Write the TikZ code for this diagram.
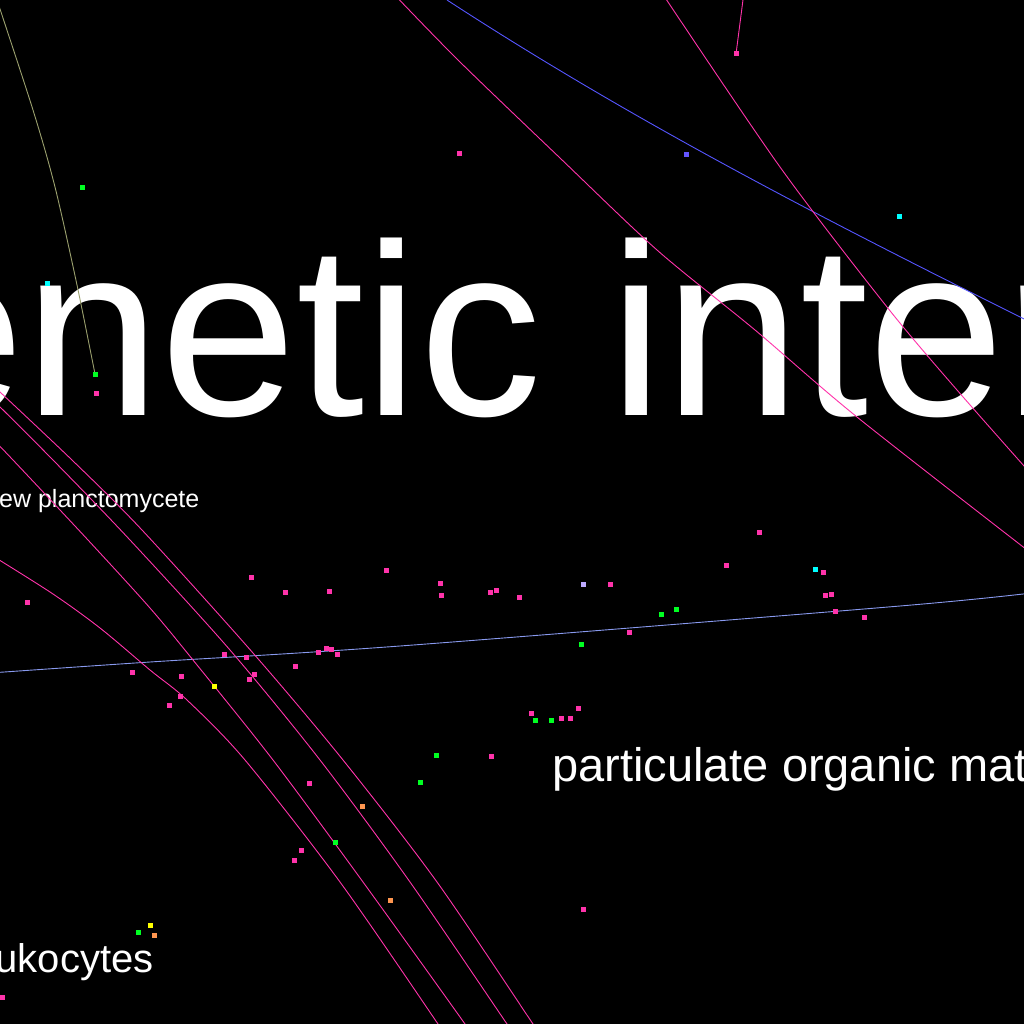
\documentclass[tikz,border=0pt]{standalone}
\usepackage{fontspec}
\setmainfont{Liberation Sans}
\definecolor{cpink}{RGB}{255,51,170}
\definecolor{cgreen}{RGB}{0,255,34}
\definecolor{ccyan}{RGB}{0,255,255}
\definecolor{cyellow}{RGB}{255,255,0}
\definecolor{corange}{RGB}{255,150,80}
\definecolor{clilac}{RGB}{190,170,255}
\definecolor{cviolet}{RGB}{100,85,255}
\definecolor{cblue}{RGB}{85,85,255}
\definecolor{csky}{RGB}{136,153,238}
\definecolor{colive}{RGB}{155,160,110}
\begin{document}
\begin{tikzpicture}[x=1pt, y=-1pt,
    vtx/.style={rectangle, inner sep=0pt, minimum size=5pt},
    link/.style={line width=0.9pt},
    txt/.style={anchor=base west, inner sep=0pt, text=white}]
    % Фон
    \useasboundingbox (0,0) rectangle (1024,1024);
    \fill[black] (0,0) rectangle (1024,1024);
    \clip (0,0) rectangle (1024,1024);

    % Подписи
    \node[txt, font=\fontsize{245}{245}\selectfont] (title) at (-112,415) {enetic inter};
    \node[txt, font=\fontsize{25}{27}\selectfont] (plancto) at (-1,507.5) {ew planctomycete};
    \node[txt, font=\fontsize{47}{50}\selectfont] (pom) at (552,781) {particulate organic mat};
    \node[txt, font=\fontsize{40}{44}\selectfont] (leuko) at (-4.6,972.7) {ukocytes};

    % Концы связей
    \coordinate (ge) at (95,374);
    \coordinate (pe) at (736,54);

    % Связи
    \draw[link, colive] plot[smooth] coordinates {(-3,0) (33,110) (55,187) (77,285) (ge)};
    \draw[link, cblue] (447,0) .. controls (639,125) and (832,223) .. (1024,319);
    \draw[link, cpink] plot[smooth] coordinates {(390,-10) (458,60) (560,158) (657,250) (755,330) (857,417) (1040,560)};
    \draw[link, cpink] plot[smooth] coordinates {(660,-10) (780,167) (887,307) (957,390) (1040,484)};
    \draw[link, cpink] (744,-8) -- (pe);
    \draw[link, csky] plot[smooth] coordinates {(-10,673) (150,662) (400,646) (900,606) (1040,592)};
    \draw[link, cpink] plot[smooth] coordinates {(-15,431) (13,460) (88,540) (150,608) (193,660) (273,760) (363,882) (465,1024) (475,1040)};
    \draw[link, cpink] plot[smooth] coordinates {(-15,392) (53,460) (130,540) (230,650) (320,760) (410,882) (507,1024) (518,1040)};
    \draw[link, cpink] plot[smooth] coordinates {(-15,378) (72,460) (142,530) (253,653) (343,760) (437,882) (533,1024) (544,1040)};
    \draw[link, cpink] plot[smooth] coordinates {(-25,545) (50,592) (100,628) (150,670) (187,700) (245,760) (340,882) (438,1024) (448,1040)};

    % Вершины
    \node[vtx, fill=cgreen] (g0) at (ge) {};
    \node[vtx, fill=cpink] (p0) at (pe) {};
    \foreach \x/\y [count=\i] in {96/393, 459/154, 759/532, 726/565, 823/572, 825/595,
        831/594, 835/611, 864/617, 27/602, 251/577, 285/592, 329/591, 386/570, 440/583,
        441/595, 490/592, 496/590, 519/597, 610/584, 629/632, 224/654, 246/657, 254/674,
        249/679, 295/666, 318/652, 326/648, 331/649, 337/654, 132/672, 181/676, 180/696,
        169/705, 531/713, 561/718, 570/718, 578/708, 491/756, 309/783, 301/850, 294/860,
        583/909, 2/997}
        \node[vtx, fill=cpink] (p\i) at (\x,\y) {};
    \foreach \x/\y [count=\i] in {82/188, 661/614, 676/609, 581/644, 535/720, 551/720,
        436/755, 420/782, 335/842, 138/932}
        \node[vtx, fill=cgreen] (g\i) at (\x,\y) {};
    \foreach \x/\y [count=\i] in {47/283, 899/217, 815/569}
        \node[vtx, fill=ccyan] (c\i) at (\x,\y) {};
    \foreach \x/\y [count=\i] in {214/686, 150/925}
        \node[vtx, fill=cyellow] (y\i) at (\x,\y) {};
    \foreach \x/\y [count=\i] in {362/806, 390/900, 154/935}
        \node[vtx, fill=corange] (o\i) at (\x,\y) {};
    \node[vtx, fill=clilac] (l1) at (583,584) {};
    \node[vtx, fill=cviolet] (v1) at (686,155) {};
\end{tikzpicture}
\end{document}
